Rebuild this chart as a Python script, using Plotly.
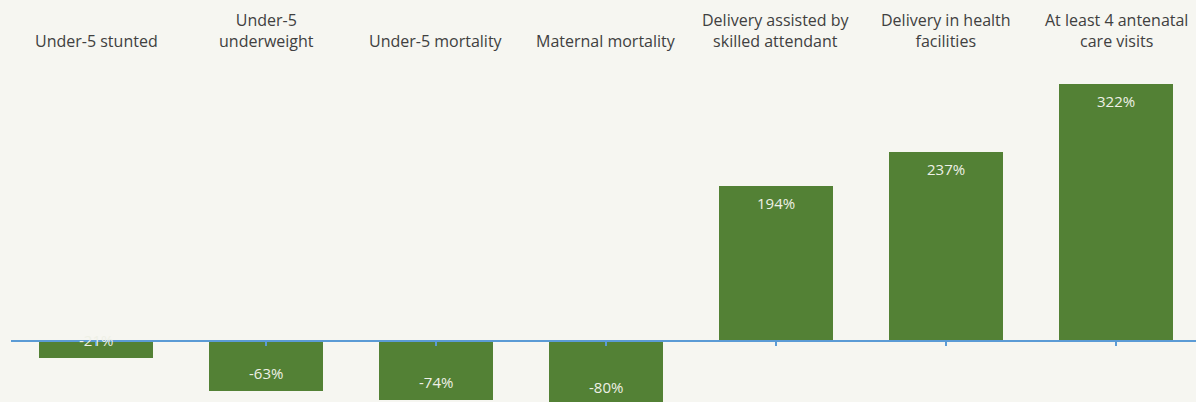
import plotly.graph_objects as go

categories = ["Under-5 stunted", "Under-5<br>underweight", "Under-5 mortality",
              "Maternal mortality", "Delivery assisted by<br>skilled attendant",
              "Delivery in health<br>facilities", "At least 4 antenatal<br>care visits"]
values = [-21, -63, -74, -80, 194, 237, 322]
value_labels = ["-21%", "-63%", "-74%", "-80%", "194%", "237%", "322%"]

W, H = 1196, 420
ymin, ymax = -99.0, 427.3
bg = "#f6f6f1"
green = "#538135"
blue = "#5b9bd5"

xs = list(range(len(categories)))

fig = go.Figure()
fig.add_trace(go.Bar(x=xs, y=values, marker=dict(color=green, line=dict(width=0)),
                     width=0.67, hoverinfo="skip"))

for x, v, t in zip(xs, values, value_labels):
    fig.add_annotation(x=x, y=v, xref="x", yref="y", text=t, showarrow=False,
                       yanchor="top" if v > 0 else "bottom",
                       yshift=-5 if v > 0 else 6,
                       font=dict(family="Open Sans", size=15, color="#eef0e6"))

for x, c in zip(xs, categories):
    fig.add_annotation(x=x, y=1 - 54 / H, xref="x", yref="paper", text=c,
                       showarrow=False, yanchor="bottom", align="center",
                       font=dict(family="Open Sans", size=16, color="#404040"))

fig.update_layout(
    width=W, height=H, margin=dict(l=11, r=0, t=0, b=0),
    paper_bgcolor=bg, plot_bgcolor=bg, showlegend=False, bargap=0,
    xaxis=dict(range=[-0.5, 6.47], tickvals=xs, showticklabels=False,
               showgrid=False, zeroline=False, showline=True, linecolor=blue,
               linewidth=2, ticks="outside", ticklen=4, tickwidth=2, tickcolor=blue,
               anchor="free", position=(0 - ymin) / (ymax - ymin), layer="above traces"),
    yaxis=dict(range=[ymin, ymax], visible=False, showgrid=False, zeroline=False),
)

fig.write_html("out.html", config={"displayModeBar": False},
               post_script="document.body.style.margin='0';document.body.style.overflow='hidden';document.body.style.background='" + bg + "';")
